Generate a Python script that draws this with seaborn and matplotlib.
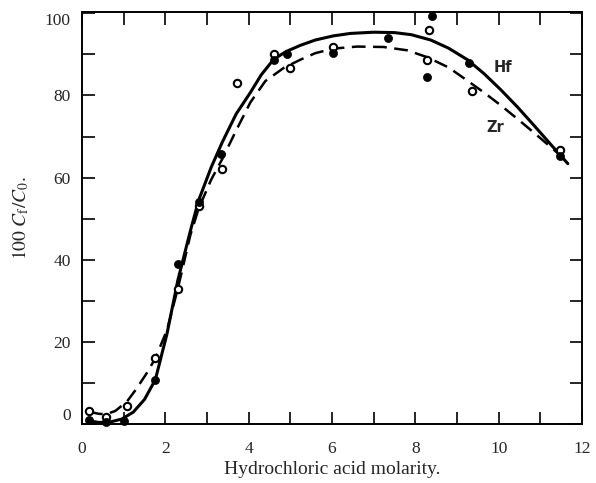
import matplotlib
matplotlib.use("Agg")
import matplotlib.pyplot as plt
import seaborn as sns
import pandas as pd

# Measured points
hf_x = [0.17, 0.58, 1.0, 1.76, 2.3, 2.8, 3.34, 4.6, 4.93, 6.03, 7.35, 8.29, 8.4, 9.3, 11.47]
hf_y = [1.0, 0.5, 0.7, 10.8, 39.0, 54.0, 65.8, 88.7, 90.0, 90.4, 94.0, 84.6, 99.3, 87.8, 65.3]
zr_x = [0.17, 0.58, 1.08, 1.76, 2.3, 2.8, 3.37, 3.72, 4.6, 4.98, 6.03, 8.29, 8.32, 9.35, 11.47]
zr_y = [3.1, 1.7, 4.3, 16.0, 33.0, 53.0, 62.0, 83.0, 90.0, 86.7, 91.8, 88.6, 96.0, 81.0, 66.8]

# Smooth curves
hf_curve_x = [0.17, 0.4, 0.67, 0.95, 1.23, 1.5, 1.76, 2.04, 2.3, 2.6, 2.8, 3.1, 3.37, 3.7, 4.04, 4.3, 4.6,
              4.9, 5.24, 5.6, 6.03, 6.44, 7.0, 7.5, 7.9, 8.37, 8.8, 9.25, 9.65, 10.05, 10.45, 10.84, 11.3, 11.66]
hf_curve_y = [0.8, 0.4, 0.5, 1.2, 2.9, 6.0, 10.8, 22.0, 35.0, 47.0, 54.5, 62.5, 68.7, 75.5, 80.7, 85.0, 88.8,
              90.7, 92.2, 93.5, 94.5, 95.1, 95.4, 95.3, 94.8, 93.5, 91.5, 88.7, 85.3, 81.4, 77.2, 72.8, 67.5, 63.4]
zr_curve_x = [0.17, 0.4, 0.58, 0.8, 1.08, 1.3, 1.56, 1.76, 2.04, 2.3, 2.6, 2.8, 3.1, 3.37, 3.7, 4.04, 4.4, 4.84,
              5.24, 5.6, 6.03, 6.6, 7.24, 7.8, 8.29, 8.8, 9.25, 9.65, 10.05, 10.45, 10.84, 11.3, 11.66]
zr_curve_y = [3.0, 2.5, 2.4, 3.2, 5.5, 8.5, 12.5, 16.0, 22.9, 33.0, 46.0, 52.5, 59.5, 64.6, 71.5, 78.3, 83.5, 86.7,
              88.7, 90.3, 91.4, 91.9, 91.8, 91.0, 89.3, 86.8, 83.6, 80.7, 77.6, 74.3, 71.0, 67.0, 63.8]

x_ticks = [0, 2, 4, 6, 8, 10, 12]
x_ticklabels = ["0", "2", "4", "6", "8", "10", "12"]
y_ticks = [0, 20, 40, 60, 80, 100]
y_ticklabels = ["0", "20", "40", "60", "80", "100"]

sns.set_style("ticks")
plt.rcParams["font.family"] = ["Liberation Serif", "DejaVu Serif"]
plt.rcParams["mathtext.fontset"] = "stix"

fig = plt.figure(figsize=(5.96, 4.83), dpi=100)
ax = fig.add_axes([0.1376, 0.122, 0.8389, 0.853])

hf_curve = pd.DataFrame({"x": hf_curve_x, "y": hf_curve_y})
zr_curve = pd.DataFrame({"x": zr_curve_x, "y": zr_curve_y})
sns.lineplot(data=hf_curve, x="x", y="y", ax=ax, color="black", linewidth=2.2, sort=False,
             estimator=None)
sns.lineplot(data=zr_curve, x="x", y="y", ax=ax, color="black", linewidth=1.8, sort=False,
             estimator=None, dashes=False, linestyle=(0, (5.5, 3)))

hf_pts = pd.DataFrame({"x": hf_x, "y": hf_y})
zr_pts = pd.DataFrame({"x": zr_x, "y": zr_y})
sns.scatterplot(data=zr_pts, x="x", y="y", ax=ax, marker="o", s=28, facecolor="white",
                edgecolor="black", linewidth=1.5, zorder=5, clip_on=False)
sns.scatterplot(data=hf_pts, x="x", y="y", ax=ax, marker="o", s=34, color="black",
                edgecolor="black", linewidth=0.5, zorder=6, clip_on=False)

ax.text(10.1, 86.7, "Hf", fontfamily="DejaVu Sans", fontweight="bold", fontsize=10.5,
        ha="center", va="center")
ax.text(9.93, 72.3, "Zr", fontfamily="DejaVu Sans", fontweight="bold", fontsize=10.5,
        ha="center", va="center")

ax.set_xlim(0, 12)
ax.set_ylim(0, 100.3)
ax.set_xticks(x_ticks)
ax.set_xticklabels(x_ticklabels)
ax.set_xticks(range(0, 13), minor=True)
ax.set_yticks(y_ticks)
ax.set_yticklabels(y_ticklabels)
ax.set_yticks(range(0, 101, 10), minor=True)

ax.tick_params(axis="both", which="both", direction="in", top=True, right=True,
               width=1.2, labelsize=12.5, color="black")
ax.tick_params(axis="both", which="major", length=9)
ax.tick_params(axis="both", which="minor", length=9)
ax.tick_params(axis="x", which="both", pad=12, labeltop=False)
ax.tick_params(axis="y", which="both", pad=8, labelright=False)

ylabels = ax.get_yticklabels()
ylabels[0].set_va("bottom")
ylabels[-1].set_va("top")

for sp in ax.spines.values():
    sp.set_visible(True)
    sp.set_linewidth(1.4)
    sp.set_color("black")

ax.set_xlabel("Hydrochloric acid molarity.", fontsize=14, labelpad=3)
ax.set_ylabel(r"$\mathrm{100}\ C_{\rm f}/C_{\rm 0}.$", fontsize=14, labelpad=10)

fig.savefig("out.png", dpi=100)
